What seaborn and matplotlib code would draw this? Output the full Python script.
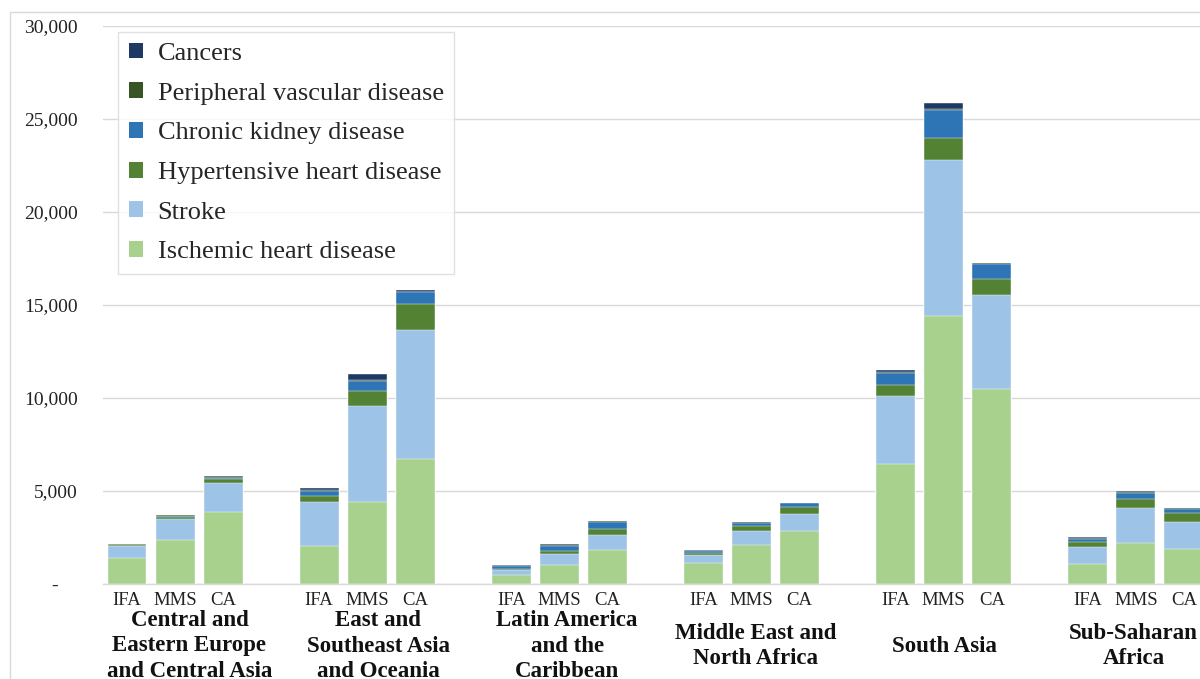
import numpy as np
import pandas as pd
import matplotlib
matplotlib.use("Agg")
import matplotlib.pyplot as plt
import matplotlib.transforms as mtransforms
import seaborn as sns
from matplotlib.patches import Patch, Rectangle
from matplotlib.ticker import FuncFormatter

# ---------------- data ----------------
regions = [
    "Central and\nEastern Europe\nand Central Asia",
    "East and\nSoutheast Asia\nand Oceania",
    "Latin America\nand the\nCaribbean",
    "Middle East and\nNorth Africa",
    "South Asia",
    "Sub-Saharan\nAfrica",
]
scenarios = ["IFA", "MMS", "CA"]

# values per bar, ordered region by region, scenario IFA/MMS/CA
ischemic = [1350, 2350, 3850, 2000, 4390, 6700, 480, 1020, 1790,
            1110, 2060, 2850, 6420, 14410, 10450, 1070, 2200, 1870]
stroke = [650, 1100, 1560, 2370, 5140, 6920, 270, 590, 840,
          430, 770, 880, 3690, 8370, 5060, 910, 1850, 1420]
hypertensive = [50, 150, 200, 320, 810, 1420, 50, 130, 310,
                110, 250, 390, 560, 1180, 890, 270, 480, 490]
kidney = [30, 50, 80, 270, 540, 620, 120, 300, 380,
          90, 180, 200, 680, 1540, 810, 150, 360, 250]
peripheral = [20, 30, 40, 60, 50, 50, 30, 40, 20,
              20, 30, 10, 40, 40, 30, 40, 40, 10]
cancers = [20, 30, 40, 120, 360, 80, 40, 70, 30,
           30, 30, 20, 100, 300, 30, 50, 70, 20]

causes = ["Ischemic heart disease", "Stroke", "Hypertensive heart disease",
          "Chronic kidney disease", "Peripheral vascular disease", "Cancers"]
series = [ischemic, stroke, hypertensive, kidney, peripheral, cancers]
colors = ["#A9D18E", "#9DC3E6", "#548235", "#2E75B6", "#375623", "#1F3864"]
yticks = [0, 5000, 10000, 15000, 20000, 25000, 30000]

# ---------------- figure ----------------
sns.set_theme(style="white")
plt.rcParams["font.family"] = ["Liberation Serif", "DejaVu Serif"]

W, H = 1200, 679
fig = plt.figure(figsize=(W / 100, H / 100), dpi=100)
ax_left, ax_right = 103, 1256
ax_top, ax_bot = 26, 583.5
ax = fig.add_axes([ax_left / W, 1 - ax_bot / H, (ax_right - ax_left) / W, (ax_bot - ax_top) / H])

# chart-area border (light gray)
fig.patches.append(Rectangle((10 / W, -0.1), 2, 1 - 12 / H + 0.1, transform=fig.transFigure,
                             fill=False, edgecolor="#D9D9D9", linewidth=1.0, zorder=0))

rows = []
for g, reg in enumerate(regions):
    for i, sc in enumerate(scenarios):
        k = g * 3 + i
        slot = g * 4 + i
        rows.append(dict(slot=slot, region=reg, scenario=sc,
                         **{c: s[k] for c, s in zip(causes, series)}))
df = pd.DataFrame(rows)
cum = df[causes].cumsum(axis=1)

for j in range(len(causes) - 1, -1, -1):
    d = pd.DataFrame({"slot": df["slot"], "val": cum[causes[j]]})
    sns.barplot(data=d, x="slot", y="val", native_scale=True, color=colors[j],
                width=0.81, edgecolor="white", linewidth=0.3, errorbar=None,
                saturation=1, ax=ax, zorder=3)

ax.set_xlim(-0.5, 23.5)
ax.set_ylim(0, 30000)
ax.set_yticks(yticks)
ax.yaxis.set_major_formatter(FuncFormatter(lambda v, p: "-    " if v == 0 else f"{int(v):,}"))
ax.yaxis.grid(True, color="#D9D9D9", linewidth=1.0, zorder=0)
ax.set_axisbelow(True)
for s in ["top", "right", "left"]:
    ax.spines[s].set_visible(False)
ax.spines["bottom"].set_color("#D9D9D9")
ax.spines["bottom"].set_linewidth(1.0)

ax.set_xticks(df["slot"].values)
ax.set_xticklabels(df["scenario"].values)
ax.tick_params(axis="x", length=0, pad=6, labelsize=13.5, colors="#222222")
ax.tick_params(axis="y", length=0, pad=18, labelsize=14, colors="#222222")
ax.set_xlabel("")
ax.set_ylabel("")

# region group labels, vertically centred at pixel row 646
lab_tr = mtransforms.blended_transform_factory(ax.transData, fig.transFigure)
for g, reg in enumerate(regions):
    xc = 1.3 + g * 3.93
    ax.text(xc, 1 - 646 / H, reg, transform=lab_tr, ha="center", va="center",
            fontsize=16.5, fontweight="bold", color="#111111", linespacing=1.3,
            clip_on=False)

handles = [Patch(facecolor=colors[j], edgecolor="none") for j in range(len(causes) - 1, -1, -1)]
labels = [causes[j] for j in range(len(causes) - 1, -1, -1)]
leg = fig.legend(handles, labels, loc="upper left", bbox_to_anchor=(118 / W, 1 - 32 / H),
                 bbox_transform=fig.transFigure, fontsize=19, frameon=True, fancybox=False,
                 handlelength=0.55, handleheight=0.55, handletextpad=0.55, labelspacing=0.66,
                 borderpad=0.4, borderaxespad=0)
leg.get_frame().set_edgecolor("#D9D9D9")
leg.get_frame().set_linewidth(1.0)

fig.savefig("out.png", dpi=100)
